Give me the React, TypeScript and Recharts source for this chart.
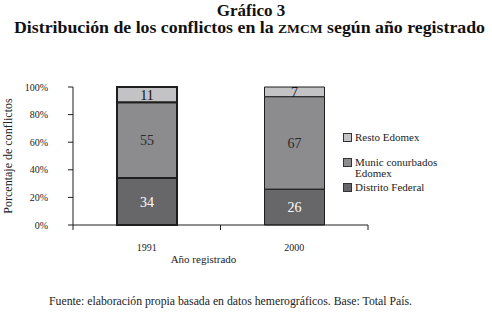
import React from 'react';
import { BarChart, Bar, XAxis, YAxis, Legend, LabelList, Cell } from 'recharts';

const years = ['1991', '2000'];
const distritoFederal = [34, 26];
const municConurbados = [55, 67];
const restoEdomex = [11, 7];
const yTicks = [0, 20, 40, 60, 80, 100];

const data = years.map((y, i) => ({
  year: y,
  df: distritoFederal[i],
  munic: municConurbados[i],
  resto: restoEdomex[i],
}));

const FONT = '"Liberation Serif", "Times New Roman", serif';
const DARK = '#1e1e1e';
const C_DF = '#676769';
const C_MUNIC = '#8c8c8f';
const C_RESTO = '#c3c3c6';

const XTick = (props: any) => {
  const { x, y, payload } = props;
  const off = payload && payload.offset ? payload.offset : 73.5;
  return (
    <g>
      <line x1={x - off} y1={y} x2={x - off} y2={y + 5} stroke={DARK} strokeWidth={1} />
      <line x1={x + off} y1={y} x2={x + off} y2={y + 5} stroke={DARK} strokeWidth={1} />
      <text x={x} y={y + 26} textAnchor="middle" fontFamily={FONT} fontSize={10} fill="#222">
        {payload.value}
      </text>
    </g>
  );
};

const LegendContent = (props: any) => {
  const items = [...(props.payload || [])].reverse();
  return (
    <div style={{ fontFamily: FONT, fontSize: 11, color: '#222' }}>
      {items.map((it: any, i: number) => {
        const lines = String(it.value).split('\n');
        return (
          <div key={i} style={{ display: 'flex', alignItems: 'flex-start', height: 25, lineHeight: '11px' }}>
            <div
              style={{
                width: 7,
                height: 7,
                background: it.color,
                border: '1px solid #333',
                marginTop: 1,
                marginRight: 3,
                flex: 'none',
              }}
            />
            <div>
              {lines.map((l, j) => (
                <div key={j}>{l}</div>
              ))}
            </div>
          </div>
        );
      })}
    </div>
  );
};

export default function App() {
  return (
    <div style={{ position: 'fixed', left: 0, top: 0, width: 492, height: 314, background: '#fff' }}>
      <BarChart
        width={492}
        height={314}
        data={data}
        margin={{ top: 87, right: 124, left: 0, bottom: 59 }}
        barSize={60}
      >
        <XAxis
          dataKey="year"
          height={30}
          axisLine={{ stroke: DARK, strokeWidth: 1 }}
          tickLine={false}
          tickSize={0}
          tickMargin={0}
          tick={<XTick />}
          interval={0}
          label={{
            content: (p: any) => {
              const vb = p.viewBox || { x: 73, y: 225, width: 295 };
              return (
                <text
                  x={vb.x + vb.width / 2 - 17}
                  y={263}
                  textAnchor="middle"
                  fontFamily={FONT}
                  fontSize={11}
                  fill="#222"
                >
                  Año registrado
                </text>
              );
            },
          }}
        />
        <YAxis
          width={73}
          domain={[0, 100]}
          ticks={yTicks}
          interval={0}
          tickFormatter={(v: number) => `${v}%`}
          axisLine={{ stroke: DARK, strokeWidth: 1 }}
          tickLine={{ stroke: DARK, strokeWidth: 1 }}
          tickSize={5}
          tickMargin={20}
          tick={{ fontFamily: FONT, fontSize: 10, fill: '#222' }}
          label={{
            content: (p: any) => {
              const vb = p.viewBox || { y: 87, height: 138 };
              const cy = vb.y + vb.height / 2;
              return (
                <text
                  x={12}
                  y={cy}
                  transform={`rotate(-90 12 ${cy})`}
                  textAnchor="middle"
                  fontFamily={FONT}
                  fontSize={12}
                  fill="#222"
                >
                  Porcentaje de conflictos
                </text>
              );
            },
          }}
        />
        <Legend
          layout="vertical"
          verticalAlign="middle"
          align="center"
          content={<LegendContent />}
          wrapperStyle={{ position: 'absolute', left: 343, top: 132, width: 140, height: 75 }}
        />
        <Bar dataKey="df" name="Distrito Federal" stackId="a" fill={C_DF} stroke={DARK} isAnimationActive={false}>
          {data.map((_, i) => (
            <Cell key={i} strokeWidth={i === 0 ? 2 : 1} />
          ))}
          <LabelList dataKey="df" position="center" fill="#fff" fontFamily={FONT} fontSize={14} />
        </Bar>
        <Bar
          dataKey="munic"
          name={'Munic conurbados\nEdomex'}
          stackId="a"
          fill={C_MUNIC}
          stroke={DARK}
          isAnimationActive={false}
        >
          {data.map((_, i) => (
            <Cell key={i} strokeWidth={i === 0 ? 2 : 1} />
          ))}
          <LabelList dataKey="munic" position="center" fill="#2a2a2a" fontFamily={FONT} fontSize={14} />
        </Bar>
        <Bar dataKey="resto" name="Resto Edomex" stackId="a" fill={C_RESTO} stroke={DARK} isAnimationActive={false}>
          {data.map((_, i) => (
            <Cell key={i} strokeWidth={i === 0 ? 2 : 1} />
          ))}
          <LabelList dataKey="resto" position="center" fill="#111" fontFamily={FONT} fontSize={14} />
        </Bar>
      </BarChart>
      <svg
        width={492}
        height={314}
        style={{ position: 'absolute', left: 0, top: 0, pointerEvents: 'none' }}
      >
        <text x={251} y={16} textAnchor="middle" fontFamily={FONT} fontSize={17} fontWeight="bold" fill="#111">
          Gráfico 3
        </text>
        <text
          x={14}
          y={33}
          textLength={471}
          lengthAdjust="spacingAndGlyphs"
          fontFamily={FONT}
          fontSize={17}
          fontWeight="bold"
          fill="#111"
        >
          Distribución de los conflictos en la <tspan fontSize={13}>ZMCM</tspan> según año registrado
        </text>
        <text
          x={49}
          y={305}
          textLength={363}
          lengthAdjust="spacingAndGlyphs"
          fontFamily={FONT}
          fontSize={12}
          fill="#222"
        >
          Fuente: elaboración propia basada en datos hemerográficos. Base: Total País.
        </text>
      </svg>
    </div>
  );
}
